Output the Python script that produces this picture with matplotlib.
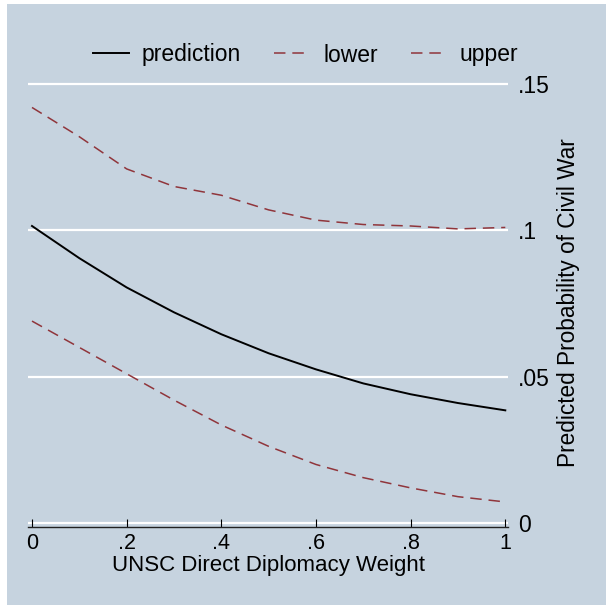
import numpy as np
import matplotlib as mpl
import matplotlib.pyplot as plt
from matplotlib.patches import Rectangle

# values
weight = [0.0, 0.1, 0.2, 0.3, 0.4, 0.5, 0.6, 0.7, 0.8, 0.9, 1.0]
prediction = [0.1015, 0.0905, 0.0805, 0.0720, 0.0645, 0.0580, 0.0525, 0.0477, 0.0440, 0.0410, 0.0385]
lower = [0.0690, 0.0600, 0.0510, 0.0420, 0.0335, 0.0262, 0.0200, 0.0155, 0.0120, 0.0090, 0.0072]
upper = [0.1420, 0.1320, 0.1210, 0.1150, 0.1120, 0.1070, 0.1035, 0.1020, 0.1015, 0.1005, 0.1010]

xticks = [0, 0.2, 0.4, 0.6, 0.8, 1.0]
xticklabels = ['0', '.2', '.4', '.6', '.8', '1']
yticks = [0, 0.05, 0.1, 0.15]
yticklabels = ['0', '.05', '.1', '.15']

bg = '#c6d3df'
cranberry = '#90353b'

mpl.rcParams.update({'font.family': ['Liberation Sans', 'DejaVu Sans'], 'font.size': 16})

W, H = 606, 605
fig = plt.figure(figsize=(W/100, H/100), dpi=100)
fig.patch.set_facecolor('white')
fig.patches.append(Rectangle((7/W, 0), 1, 1 - 4/H, transform=fig.transFigure,
                             facecolor=bg, edgecolor='none', zorder=-10))

# plot region in pixels
left, right, bottom, top = 28.3, 508, 526.7, 70
ax = fig.add_axes([left/W, 1 - bottom/H, (right-left)/W, (bottom-top)/H])
ax.set_facecolor(bg)

ax.plot(weight, prediction, color='black', lw=1.4, label='prediction')
ax.plot(weight, lower, color=cranberry, lw=1.1, dashes=(7.5, 4.5), label='lower')
ax.plot(weight, upper, color=cranberry, lw=1.1, dashes=(7.5, 4.5), label='upper')

ax.set_xlim(-0.0078, 1.0057)
ax.set_ylim(-0.00126, 0.1548)

for y in yticks:
	ax.axhline(y, color='white', lw=1.6, zorder=0.5)

for s in ['top', 'left', 'right']:
	ax.spines[s].set_visible(False)
ax.spines['bottom'].set_color('#222222')
ax.spines['bottom'].set_linewidth(1.0)

ax.set_xticks(xticks)
ax.set_xticklabels(xticklabels)
ax.tick_params(axis='x', direction='in', length=5.8, width=0.8, pad=4.5, labelsize=15.5)

ax.yaxis.tick_right()
ax.set_yticks(yticks)
ax.set_yticklabels(yticklabels)
ax.tick_params(axis='y', length=0, pad=7, labelsize=16.5)

fig.text(269/W, 1 - 566/H, 'UNSC Direct Diplomacy Weight', fontsize=16,
		 ha='center', va='center')
fig.text(569/W, 1 - 303/H, 'Predicted Probability of Civil War', fontsize=16.3,
		 ha='center', va='center', rotation=90)

handles, labels = ax.get_legend_handles_labels()
fig.legend(handles, labels, loc='center', bbox_to_anchor=(305.5/W, 1 - 55/H), ncol=3,
		   frameon=False, handlelength=1.57, handletextpad=0.57, columnspacing=1.44,
		   fontsize=16.5, borderpad=0, borderaxespad=0)

fig.savefig('out.png', dpi=100, facecolor=fig.get_facecolor())
